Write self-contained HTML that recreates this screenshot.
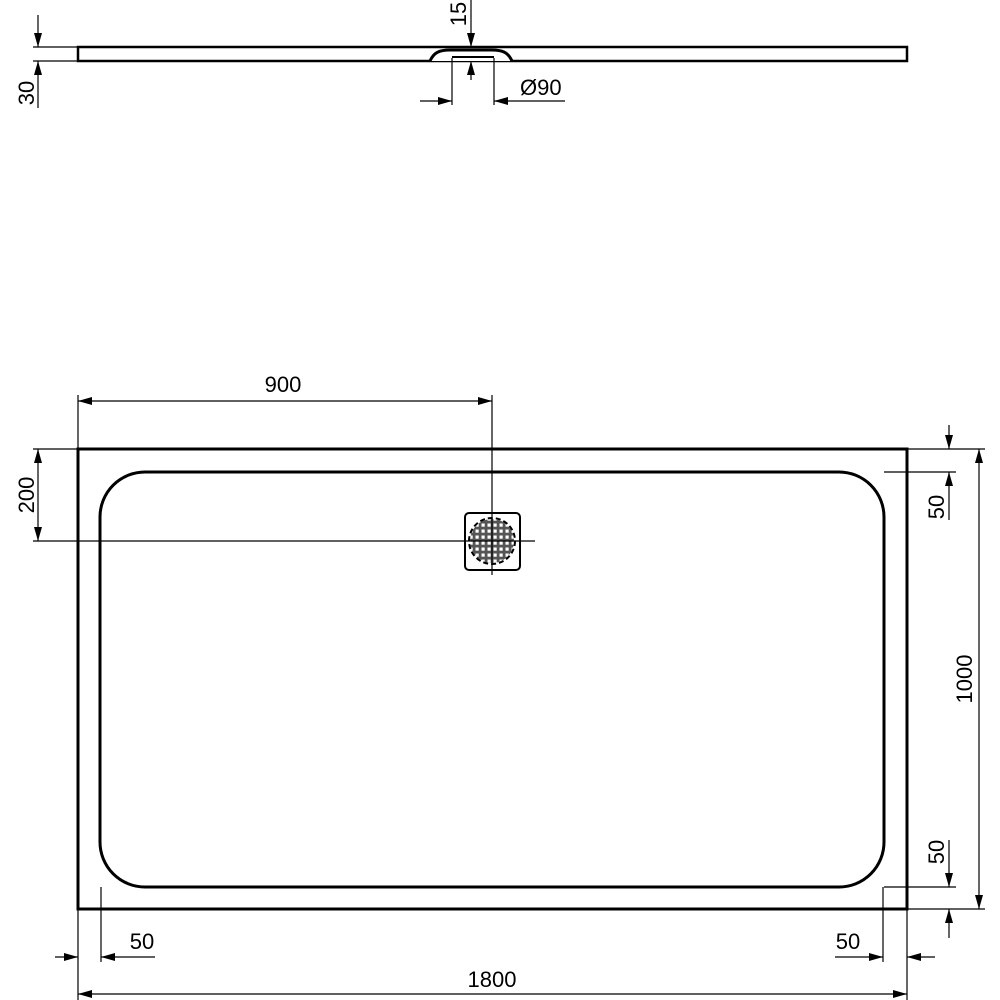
<!DOCTYPE html>
<html><head><style>html,body{margin:0;padding:0;background:#fff}svg{display:block}</style></head>
<body>
<svg width="1000" height="1000" viewBox="0 0 1000 1000" xmlns="http://www.w3.org/2000/svg" font-family="Liberation Sans, sans-serif" font-size="22" fill="#000">
<defs>
<marker id="a" viewBox="0 0 14 8" refX="14" refY="4" markerWidth="14" markerHeight="8" markerUnits="userSpaceOnUse" orient="auto"><path d="M0,0 L14,4 L0,8 z" fill="#000"/></marker>
<pattern id="g" width="6" height="6" patternUnits="userSpaceOnUse"><rect width="6" height="6" fill="#555"/><rect x="1.5" y="1.5" width="3.2" height="3.2" fill="#fff"/></pattern>
</defs>
<g stroke="#000" fill="none">
<!-- profile -->
<rect x="78" y="47" width="829" height="14" stroke-width="2.5"/>
<path d="M430,61 C434,52 440,50 450,50 L492,50 C502,50 508,52 512,61" stroke-width="3" fill="#fff"/>
<line x1="452" y1="57" x2="494" y2="57" stroke-width="2"/>
<line x1="33" y1="47" x2="78" y2="47" stroke-width="1.2"/>
<line x1="33" y1="61" x2="78" y2="61" stroke-width="1.2"/>
<line x1="38" y1="15" x2="38" y2="47" stroke-width="1.2" marker-end="url(#a)"/>
<line x1="38" y1="108" x2="38" y2="61" stroke-width="1.2" marker-end="url(#a)"/>
<line x1="471" y1="0" x2="471" y2="47" stroke-width="1.2" marker-end="url(#a)"/>
<line x1="471" y1="80" x2="471" y2="61" stroke-width="1.2" marker-end="url(#a)"/>
<line x1="452" y1="58" x2="452" y2="105" stroke-width="1.2"/>
<line x1="494" y1="58" x2="494" y2="105" stroke-width="1.2"/>
<line x1="420" y1="101" x2="452" y2="101" stroke-width="1.2" marker-end="url(#a)"/>
<line x1="565" y1="101" x2="494" y2="101" stroke-width="1.2" marker-end="url(#a)"/>
<!-- plan -->
<rect x="78" y="449" width="829" height="460" stroke-width="3"/>
<rect x="100" y="472" width="784" height="415" rx="45" ry="45" stroke-width="3"/>
<rect x="465" y="513" width="55" height="57" rx="4" stroke-width="2" fill="#fff"/>
<circle cx="492" cy="541" r="22" fill="url(#g)" stroke="none"/>
<circle cx="492" cy="541" r="23" stroke-width="2" stroke-dasharray="5,3"/>
<!-- 900 -->
<line x1="78" y1="395" x2="78" y2="449" stroke-width="1.2"/>
<line x1="492" y1="395" x2="492" y2="575" stroke-width="1.2"/>
<line x1="285" y1="401" x2="78" y2="401" stroke-width="1.2" marker-end="url(#a)"/>
<line x1="285" y1="401" x2="492" y2="401" stroke-width="1.2" marker-end="url(#a)"/>
<!-- 200 -->
<line x1="33" y1="449" x2="78" y2="449" stroke-width="1.2"/>
<line x1="33" y1="541" x2="535" y2="541" stroke-width="1.2"/>
<line x1="38" y1="495" x2="38" y2="449" stroke-width="1.2" marker-end="url(#a)"/>
<line x1="38" y1="495" x2="38" y2="541" stroke-width="1.2" marker-end="url(#a)"/>
<!-- right -->
<line x1="907" y1="449" x2="985" y2="449" stroke-width="1.2"/>
<line x1="884" y1="472" x2="956" y2="472" stroke-width="1.2"/>
<line x1="884" y1="887" x2="956" y2="887" stroke-width="1.2"/>
<line x1="907" y1="909" x2="985" y2="909" stroke-width="1.2"/>
<line x1="949" y1="425" x2="949" y2="449" stroke-width="1.2" marker-end="url(#a)"/>
<line x1="949" y1="520" x2="949" y2="472" stroke-width="1.2" marker-end="url(#a)"/>
<line x1="949" y1="840" x2="949" y2="887" stroke-width="1.2" marker-end="url(#a)"/>
<line x1="949" y1="938" x2="949" y2="909" stroke-width="1.2" marker-end="url(#a)"/>
<line x1="979" y1="679" x2="979" y2="449" stroke-width="1.2" marker-end="url(#a)"/>
<line x1="979" y1="679" x2="979" y2="909" stroke-width="1.2" marker-end="url(#a)"/>
<!-- bottom -->
<line x1="78" y1="909" x2="78" y2="1000" stroke-width="1.2"/>
<line x1="101" y1="887" x2="101" y2="962" stroke-width="1.2"/>
<line x1="883" y1="887" x2="883" y2="962" stroke-width="1.2"/>
<line x1="907" y1="909" x2="907" y2="1000" stroke-width="1.2"/>
<line x1="55" y1="957" x2="78" y2="957" stroke-width="1.2" marker-end="url(#a)"/>
<line x1="155" y1="957" x2="101" y2="957" stroke-width="1.2" marker-end="url(#a)"/>
<line x1="835" y1="957" x2="883" y2="957" stroke-width="1.2" marker-end="url(#a)"/>
<line x1="935" y1="957" x2="907" y2="957" stroke-width="1.2" marker-end="url(#a)"/>
<line x1="492" y1="994" x2="78" y2="994" stroke-width="1.2" marker-end="url(#a)"/>
<line x1="492" y1="994" x2="907" y2="994" stroke-width="1.2" marker-end="url(#a)"/>
</g>
<text x="283" y="392" text-anchor="middle">900</text>
<text x="492" y="987" text-anchor="middle">1800</text>
<text x="142" y="949" text-anchor="middle">50</text>
<text x="848" y="949" text-anchor="middle">50</text>
<text x="520" y="95">Ø90</text>
<text transform="translate(34,93) rotate(-90)" text-anchor="middle">30</text>
<text transform="translate(466,14) rotate(-90)" text-anchor="middle">15</text>
<text transform="translate(34,495) rotate(-90)" text-anchor="middle">200</text>
<text transform="translate(944,507) rotate(-90)" text-anchor="middle">50</text>
<text transform="translate(944,852) rotate(-90)" text-anchor="middle">50</text>
<text transform="translate(972,679) rotate(-90)" text-anchor="middle">1000</text>
</svg>
</body></html>
